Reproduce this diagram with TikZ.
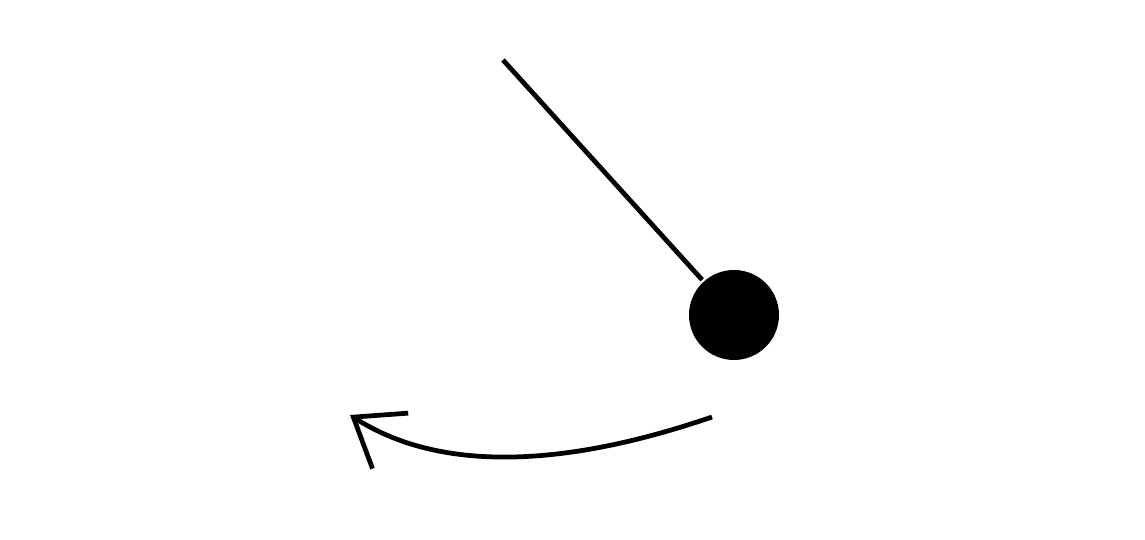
\documentclass[tikz,border=0pt]{standalone}
\usetikzlibrary{arrows.meta}
\begin{document}
\begin{tikzpicture}[line width=1.35pt]
    \useasboundingbox (0, 0) rectangle (11.45, 5.4);
    \coordinate (pivot) at (5.03, 4.80);
    \node[circle, fill, minimum size=0.9cm, inner sep=0] (bob) at (7.34, 2.25) {};
    \draw (pivot) -- (bob);
    \coordinate (swingstart) at (7.12, 1.23);
    \coordinate (swingend) at (3.50, 1.25);
    \draw[-{Straight Barb[length=4.4mm, width=6.6mm]}] (swingstart) .. controls (5.75, 0.76) and (4.45, 0.64) .. (swingend);
\end{tikzpicture}
\end{document}
